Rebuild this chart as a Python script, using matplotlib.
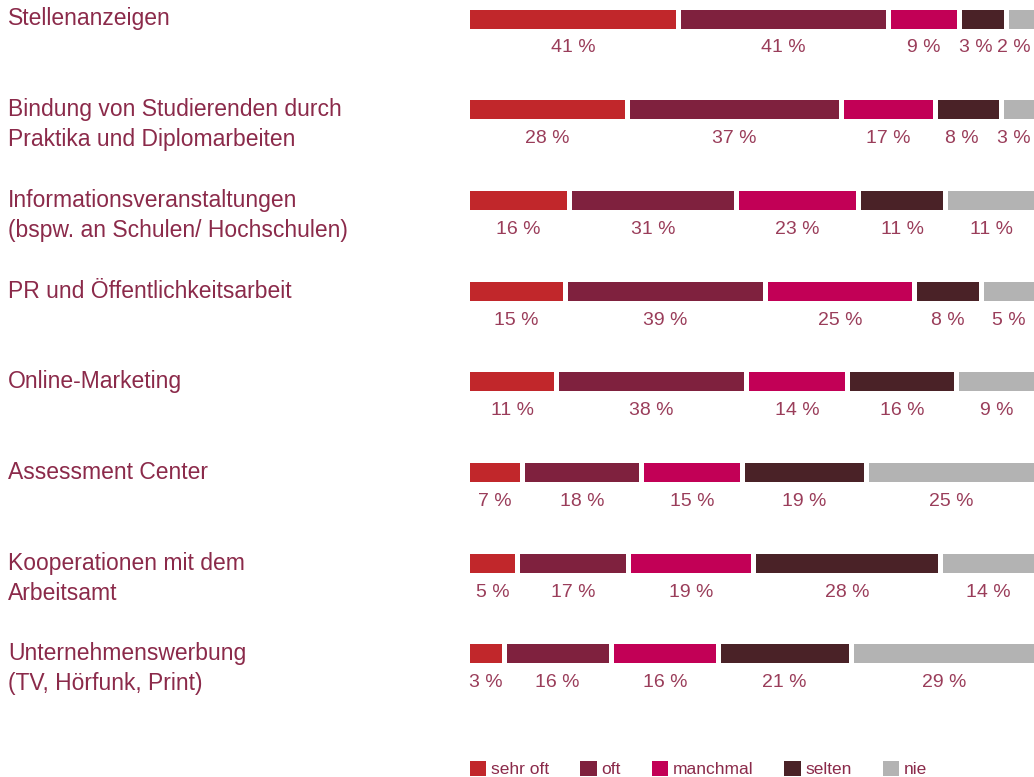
import matplotlib.pyplot as plt
from matplotlib.patches import Patch
from matplotlib.transforms import blended_transform_factory

# Data
categories = [
    "Stellenanzeigen",
    "Bindung von Studierenden durch\nPraktika und Diplomarbeiten",
    "Informationsveranstaltungen\n(bspw. an Schulen/ Hochschulen)",
    "PR und Öffentlichkeitsarbeit",
    "Online-Marketing",
    "Assessment Center",
    "Kooperationen mit dem\nArbeitsamt",
    "Unternehmenswerbung\n(TV, Hörfunk, Print)",
]
series = ["sehr oft", "oft", "manchmal", "selten", "nie"]

# percentages as printed under the bars
percent_labels = [
    [41, 41, 9, 3, 2],
    [28, 37, 17, 8, 3],
    [16, 31, 23, 11, 11],
    [15, 39, 25, 8, 5],
    [11, 38, 14, 16, 9],
    [7, 18, 15, 19, 25],
    [5, 17, 19, 28, 14],
    [3, 16, 16, 21, 29],
]

# share of the bar length each segment takes in the picture (not proportional to the labels)
bar_shares = [
    [37.4, 37.2, 12.6, 8.3, 4.5],
    [28.3, 38.0, 16.7, 11.7, 5.3],
    [18.0, 29.7, 21.6, 15.5, 15.2],
    [17.4, 35.4, 26.5, 11.9, 8.8],
    [15.8, 33.6, 18.0, 19.3, 13.3],
    [9.8, 21.0, 18.0, 21.9, 29.3],
    [8.9, 19.6, 22.2, 33.1, 16.2],
    [6.5, 19.0, 19.0, 23.5, 32.0],
]

colors = ["#c1272b", "#7f213e", "#c20056", "#4a2227", "#b3b3b3"]
text_color = "#8b2a4a"
label_color = "#9a3d5a"

plt.rcParams["font.family"] = ["Liberation Sans", "DejaVu Sans"]

W, H = 1034, 777
fig = plt.figure(figsize=(W / 100, H / 100), dpi=100)

# axes spans the bar region; rows are spaced ~90.7 px, first centre at 19 px
row_px = 90.7
top_px = 19
ax = fig.add_axes([470 / W, 0, 564 / W, 1])
ax.set_xlim(0, 100)
ax.set_ylim((H - top_px) / row_px, -top_px / row_px)
ax.axis("off")

bar_h = 19 / row_px
gap = 5 / 5.64

for i, (shares, labels) in enumerate(zip(bar_shares, percent_labels)):
    left = 0
    for j, (s, v) in enumerate(zip(shares, labels)):
        w = s - gap if j < len(shares) - 1 else s
        ax.barh(i, w, left=left, height=bar_h, color=colors[j], linewidth=0)
        cx, ha = left + w / 2, "center"
        if cx > 96:
            cx, ha = 99.4, "right"
        elif j == 3 and shares[4] < 6:
            cx -= 1.2
        ax.text(cx, i + 29 / row_px, f"{v} %", ha=ha, va="center",
                fontsize=14, color=label_color)
        left += s

# category labels on the left
trans = blended_transform_factory(fig.transFigure, ax.transData)
for i, cat in enumerate(categories):
    for k, line in enumerate(cat.split("\n")):
        ax.text(8 / W, i + k * 30 / row_px, line, transform=trans,
                ha="left", va="center", fontsize=16.5, color=text_color)

handles = [Patch(facecolor=c, edgecolor="none") for c in colors]
leg = fig.legend(handles, series, loc="center left", bbox_to_anchor=(470 / W, 1 - 769 / H),
                 ncol=5, frameon=False, fontsize=12.5, handlelength=0.95, handleheight=0.95,
                 handletextpad=0.25, columnspacing=1.8, borderpad=0, borderaxespad=0)
for t in leg.get_texts():
    t.set_color(text_color)

fig.savefig("out.png", dpi=100)
